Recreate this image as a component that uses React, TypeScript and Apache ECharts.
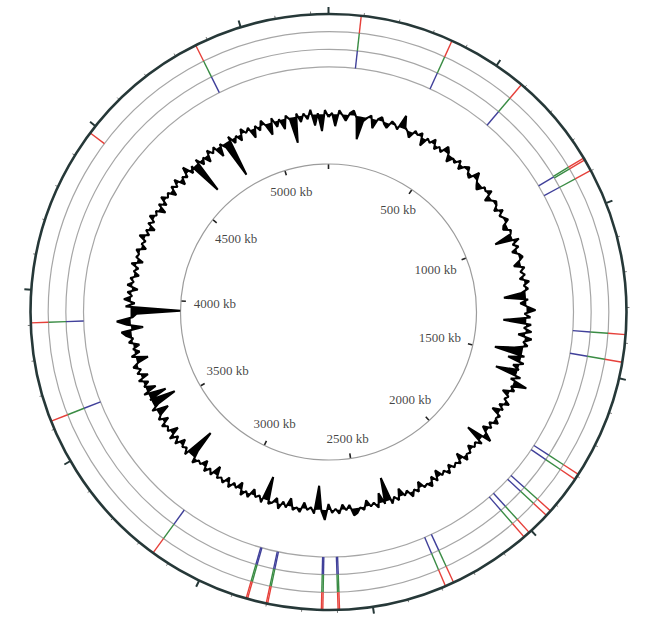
import React, { useEffect, useRef } from "react";
import * as echarts from "echarts";

// Genome length (kb) and scale labels
const GENOME_KB = 5250;
const labelKb = [500, 1000, 1500, 2000, 2500, 3000, 3500, 4000, 4500, 5000];

// Feature marks per track (kb positions)
const redMarksKb = [92, 357, 588, 859, 865, 899, 1376, 1454, 1794, 1811, 1923, 1940, 2008, 2027, 2263, 2288, 2594, 2598, 2641, 2645, 2797, 2801, 2855, 2859, 3151, 3624, 3907, 4476, 4864];
const greenMarksKb = [92, 357, 588, 859, 865, 899, 1376, 1454, 1794, 1811, 1923, 1940, 2008, 2027, 2263, 2288, 2594, 2598, 2641, 2645, 2797, 2801, 2855, 2859, 3151, 3624, 3907, 4864];
const blueMarksKb = [92, 357, 588, 861, 899, 1376, 1454, 1794, 1811, 1923, 1940, 2008, 2027, 2263, 2288, 2594, 2598, 2641, 2645, 2797, 2801, 2855, 2859, 3151, 3624, 3907, 4864];

// GC deviation, one value per 15 kb window
const gcWindowKb = 15;
const gcDeviation = [
  -3, 1, -12, 4, -1, -6, 2, 5, -2, -23,
  -4, 0, 3, -9, 1, 4, -2, -5, 3, 1,
  -3, 13, 2, -1, -6, 3, 0, 4, -8, 2,
  -1, 5, -4, 1, -3, 6, 2, -7, 0, -3,
  3, -5, 1, 4, -2, -4, 7, 1, -3, -6,
  2, 0, 5, -6, -1, 3, 1, -4, 4, -2,
  1, 4, -3, -5, 2, 0, -18, 6, -2, 3,
  -5, 1, 4, -1, -7, 3, -2, 2, -4, 5,
  -1, 3, -4, -22, 2, -6, 1, 9, -2, 4,
  -23, 5, -2, 6, -7, 7, -1, 4, -9, -28,
  3, -13, 4, -6, 1, -22, 5, -4, 14, -1,
  4, -7, 1, -2, 5, -4, 2, -8, 3, 0,
  5, -3, 2, -6, 1, 9, -17, 4, -2, 1,
  -5, 2, 0, 5, -7, 3, -1, 2, -4, 4,
  -2, 1, -7, 3, -4, 5, 0, 2, -6, 3,
  -1, 5, -3, 1, -8, 3, -2, 4, -24, 2,
  -10, 4, -2, 1, -6, 3, 0, 5, 7, -4,
  1, -5, 4, -1, 3, -6, 10, 1, -24, 4,
  -2, 1, -6, 4, 0, 3, -8, 2, -3, 5,
  -5, 1, 3, -24, 4, -2, 1, -6, 4, -1,
  5, -7, 1, -3, 4, -5, 3, -1, 2, -9,
  3, -2, 4, -6, 1, -1, 5, -7, -29, 4,
  -2, 1, -6, 4, -3, 5, -8, 2, -1, 4,
  -6, 3, -2, -12, 4, -5, -25, 1, -18, 4,
  -10, 1, -5, 4, -7, 3, -2, 5, -1, -12,
  4, -5, 1, -6, 4, -1, 6, 10, -12, 4,
  14, -2, -6, -50, 5, -4, 7, -1, 4, -6,
  5, -1, 3, -5, 1, -3, 5, -6, 2, 0,
  4, -5, 1, -2, 6, -3, 2, -6, 3, -2,
  5, -1, 2, -7, 3, -4, 5, -1, 2, -6,
  3, -2, 5, -6, 1, -3, 7, -4, 2, -33,
  4, -5, 1, -7, 4, -2, 3, -10, 2, -4,
  -38, 4, -5, 1, -6, 5, -1, 3, -9, 2,
  -4, 5, -2, -12, 4, -6, 1, -10, 3, -2,
  -26, 3, -6, 2, -4, 5, -11, 1, -17, 4,
];

const CX = 328.5;
const CY = 312;
const R_TRACK_IN = 245;
const R_OUTER = 298;
const R_SCALE = 148;
const TRACKS = 3;
const TRACK_W = (R_OUTER - R_TRACK_IN) / TRACKS;
const SERIF = "'Liberation Serif', 'DejaVu Serif', 'Times New Roman', serif";
const FONT_SIZE = 13;

function hiddenAngle(polarIndex: number, lineColor?: string) {
  return {
    polarIndex,
    type: "value",
    min: 0,
    max: GENOME_KB,
    startAngle: 90,
    clockwise: true,
    axisLine: lineColor ? { show: true, lineStyle: { color: lineColor, width: 1.2 } } : { show: false },
    axisTick: { show: false },
    axisLabel: { show: false },
    splitLine: { show: false },
    minorTick: { show: false },
    z: 1,
  };
}

function hiddenRadius(polarIndex: number, min: number, max: number) {
  return {
    polarIndex,
    type: "value",
    min,
    max,
    axisLine: { show: false },
    axisTick: { show: false },
    axisLabel: { show: false },
    splitLine: { show: false },
  };
}

function trackSeries(name: string, marks: number[], track: number, color: string) {
  return {
    name,
    type: "custom",
    coordinateSystem: "polar",
    polarIndex: 0,
    data: marks.map((kb) => [track, kb]),
    renderItem: (_params: any, api: any) => {
      const r0 = api.value(0);
      const kb = api.value(1);
      const p0 = api.coord([r0, kb]);
      const p1 = api.coord([r0 + 1, kb]);
      return {
        type: "line",
        shape: { x1: p0[0], y1: p0[1], x2: p1[0], y2: p1[1] },
        style: { stroke: color, lineWidth: 1.4 },
      };
    },
    z: 3,
  };
}

export default function App() {
  const ref = useRef<HTMLDivElement>(null);

  useEffect(() => {
    if (!ref.current) return;
    const chart = echarts.init(ref.current, null, { renderer: "svg" });

    const labelData = labelKb.map((kb) => {
      const text = `${kb} kb`;
      const digits = String(kb).length;
      const hw = ((digits * 0.5 + 0.25 + 1.0) * FONT_SIZE) / 2;
      const hh = 6.5;
      const th = (kb / GENOME_KB) * 2 * Math.PI;
      const ext = Math.sqrt(Math.pow(hw * Math.sin(th), 2) + Math.pow(hh * Math.cos(th), 2));
      return { value: [R_SCALE - 13 - ext, kb], name: text };
    });

    const gcData = gcDeviation.map((v, i) => [v, i * gcWindowKb]);
    gcData.push([gcDeviation[0], GENOME_KB]);

    const ringRadii = [0, 1, 2].map((k) => R_TRACK_IN + k * TRACK_W);

    chart.setOption({
      animation: false,
      backgroundColor: "#ffffff",
      polar: [
        { center: [CX, CY], radius: [0, R_OUTER] },
        { center: [CX, CY], radius: [0, R_SCALE] },
        { center: [CX, CY], radius: [R_SCALE, 214] },
        ...ringRadii.map((r) => ({ center: [CX, CY], radius: [0, r] })),
      ],
      angleAxis: [
        {
          polarIndex: 0,
          type: "value",
          min: 0,
          max: GENOME_KB,
          interval: 500,
          startAngle: 90,
          clockwise: true,
          z: 5,
          axisLine: { show: true, lineStyle: { color: "#263838", width: 2.6 } },
          axisTick: { show: true, inside: false, length: 7, lineStyle: { color: "#263838", width: 2 } },
          minorTick: { show: true, splitNumber: 5, length: 3, lineStyle: { color: "#777", width: 1 } },
          axisLabel: { show: false },
          splitLine: { show: false },
        },
        {
          polarIndex: 1,
          type: "value",
          min: 0,
          max: GENOME_KB,
          interval: 500,
          startAngle: 90,
          clockwise: true,
          axisLine: { show: true, lineStyle: { color: "#9c9c9c", width: 1.2 } },
          axisTick: { show: true, inside: true, length: 5, lineStyle: { color: "#222", width: 1.6 } },
          axisLabel: { show: false },
          splitLine: { show: false },
          minorTick: { show: false },
        },
        hiddenAngle(2),
        hiddenAngle(3, "#a6a6a6"),
        hiddenAngle(4, "#a6a6a6"),
        hiddenAngle(5, "#a6a6a6"),
      ],
      radiusAxis: [
        hiddenRadius(0, -R_TRACK_IN / TRACK_W, TRACKS),
        hiddenRadius(1, 0, R_SCALE),
        hiddenRadius(2, -50, 16),
        hiddenRadius(3, 0, 1),
        hiddenRadius(4, 0, 1),
        hiddenRadius(5, 0, 1),
      ],
      series: [
        trackSeries("Track blue", blueMarksKb, 0, "#40409a"),
        trackSeries("Track green", greenMarksKb, 1, "#3a8c44"),
        trackSeries("Track red", redMarksKb, 2, "#e6403a"),
        {
          name: "GC",
          type: "line",
          coordinateSystem: "polar",
          polarIndex: 2,
          data: gcData,
          symbol: "none",
          showSymbol: false,
          clip: false,
          lineStyle: { color: "#000", width: 2 },
          areaStyle: { color: "#000", opacity: 1 },
          z: 2,
        },
        {
          name: "Scale labels",
          type: "scatter",
          coordinateSystem: "polar",
          polarIndex: 1,
          data: labelData,
          symbolSize: 0.1,
          itemStyle: { color: "rgba(0,0,0,0)" },
          label: {
            show: true,
            position: "inside",
            formatter: (p: any) => p.name,
            color: "#111",
            textBorderWidth: 0,
            fontFamily: SERIF,
            fontSize: FONT_SIZE,
          },
          z: 4,
        },
      ],
    });

    return () => chart.dispose();
  }, []);

  return (
    <div
      ref={ref}
      style={{ position: "fixed", left: 0, top: 0, width: 672, height: 619, background: "#fff" }}
    />
  );
}
